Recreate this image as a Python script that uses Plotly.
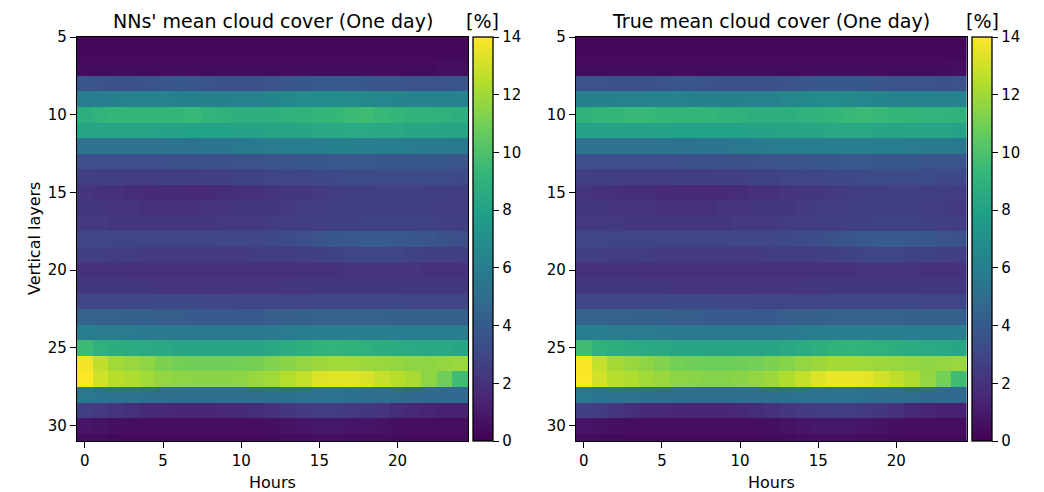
import plotly.graph_objects as go

hours = list(range(25))
layers = list(range(5, 32))

nn_cover = [
    [0.2,0.2,0.2,0.2,0.2,0.2,0.2,0.2,0.2,0.2,0.2,0.2,0.2,0.2,0.2,0.2,0.2,0.2,0.2,0.2,0.2,0.2,0.2,0.2,0.2],
    [0.3,0.3,0.3,0.3,0.3,0.3,0.3,0.3,0.3,0.3,0.3,0.3,0.3,0.3,0.3,0.3,0.3,0.3,0.3,0.3,0.3,0.3,0.3,0.3,0.3],
    [0.4,0.4,0.4,0.4,0.4,0.4,0.4,0.4,0.4,0.4,0.4,0.4,0.4,0.4,0.4,0.4,0.4,0.4,0.4,0.4,0.4,0.4,0.4,0.5,0.5],
    [3.7,3.6,3.5,3.5,3.6,3.7,3.8,3.7,3.6,3.5,3.5,3.5,3.6,3.7,3.8,3.9,3.9,3.9,3.8,3.7,3.7,3.6,3.6,3.6,3.7],
    [6.0,6.0,6.1,6.2,6.2,6.2,6.1,6.1,6.1,6.1,6.2,6.3,6.4,6.6,6.8,6.8,6.8,6.7,6.6,6.5,6.4,6.3,6.3,6.3,6.2],
    [8.8,9.1,9.3,9.3,9.3,9.3,9.3,9.4,9.1,8.9,8.8,8.8,8.8,8.9,9.0,9.2,9.3,9.5,9.6,9.4,9.2,9.0,9.0,8.9,8.8],
    [8.2,8.2,8.2,8.2,8.2,8.1,8.1,8.0,8.0,8.0,8.1,8.1,8.2,8.2,8.3,8.4,8.4,8.5,8.5,8.4,8.4,8.3,8.3,8.2,8.2],
    [5.3,5.3,5.3,5.3,5.3,5.3,5.4,5.4,5.5,5.5,5.6,5.7,5.8,5.9,6.0,6.0,6.1,6.1,6.0,6.0,5.9,5.8,5.7,5.7,5.6],
    [3.4,3.4,3.4,3.4,3.4,3.4,3.5,3.5,3.5,3.5,3.6,3.6,3.7,3.7,3.8,3.8,3.9,3.9,3.9,3.8,3.8,3.8,3.8,3.8,3.7],
    [2.7,2.6,2.6,2.5,2.5,2.6,2.6,2.6,2.7,2.7,2.8,2.8,2.9,3.0,3.0,3.1,3.1,3.2,3.2,3.2,3.2,3.2,3.2,3.2,3.1],
    [2.1,2.0,1.9,1.8,1.7,1.7,1.7,1.6,1.7,1.8,1.9,2.0,2.1,2.2,2.3,2.4,2.5,2.6,2.6,2.7,2.7,2.7,2.6,2.6,2.5],
    [2.2,2.2,2.1,2.1,2.0,2.0,2.0,2.0,2.1,2.1,2.2,2.3,2.3,2.4,2.5,2.5,2.6,2.6,2.6,2.6,2.6,2.6,2.6,2.5,2.5],
    [2.4,2.4,2.3,2.3,2.3,2.3,2.3,2.3,2.3,2.4,2.4,2.4,2.5,2.5,2.6,2.6,2.7,2.7,2.8,2.8,2.8,2.8,2.8,2.7,2.6],
    [3.0,3.0,2.9,2.9,2.9,2.9,2.9,2.9,2.9,3.0,3.0,3.0,3.1,3.2,3.4,3.6,3.8,3.9,4.0,4.0,3.9,3.8,3.7,3.5,3.4],
    [2.6,2.6,2.5,2.5,2.4,2.4,2.4,2.4,2.4,2.4,2.4,2.5,2.5,2.5,2.6,2.7,2.8,2.9,2.9,2.9,2.9,2.8,2.7,2.7,2.6],
    [2.0,2.0,2.0,1.9,1.9,1.9,1.9,1.9,1.9,1.9,1.9,1.9,1.9,1.9,2.0,2.0,2.0,2.1,2.1,2.1,2.1,2.1,2.0,2.0,2.0],
    [2.3,2.3,2.2,2.2,2.2,2.1,2.1,2.1,2.1,2.1,2.1,2.1,2.1,2.2,2.2,2.2,2.3,2.3,2.3,2.3,2.3,2.3,2.3,2.3,2.3],
    [3.0,3.0,3.0,3.0,3.0,3.1,3.1,3.1,3.0,3.0,2.9,2.9,2.9,2.9,2.9,3.0,3.0,3.0,3.0,3.0,3.0,2.9,2.9,2.9,2.9],
    [4.4,4.3,4.3,4.2,4.2,4.1,4.1,4.0,4.0,4.0,4.0,4.0,4.1,4.1,4.2,4.3,4.3,4.3,4.3,4.3,4.2,4.2,4.2,4.2,4.2],
    [5.9,5.8,5.8,5.8,5.7,5.7,5.7,5.7,5.7,5.6,5.6,5.6,5.7,5.8,5.9,6.0,6.0,6.0,6.0,5.9,5.9,5.9,5.9,5.9,5.9],
    [9.5,8.9,8.7,8.6,8.5,8.4,8.3,8.2,8.2,8.2,8.2,8.3,8.4,8.6,8.8,9.0,9.1,9.0,8.9,8.7,8.6,8.5,8.4,8.4,8.3],
    [13.8,12.7,12.0,11.8,11.6,11.2,11.0,10.9,10.9,10.9,11.0,11.1,11.3,11.5,11.7,11.9,12.0,12.0,11.9,11.8,11.7,11.6,11.6,11.7,11.8],
    [14.0,13.0,12.5,12.3,12.0,11.7,11.6,11.5,11.5,11.5,11.6,11.8,12.0,12.4,12.8,13.3,13.4,13.4,13.2,12.8,12.5,12.2,11.6,10.9,9.6],
    [5.6,5.5,5.4,5.3,5.2,5.1,5.1,5.1,5.1,5.1,5.1,5.1,5.2,5.2,5.3,5.3,5.3,5.2,5.1,5.0,4.9,4.8,4.8,4.8,4.8],
    [2.6,2.4,2.1,1.9,1.7,1.6,1.5,1.5,1.5,1.6,1.7,1.8,2.0,2.2,2.4,2.5,2.5,2.4,2.3,2.1,1.8,1.6,1.4,1.3,1.3],
    [0.8,0.7,0.6,0.5,0.5,0.5,0.5,0.5,0.5,0.5,0.5,0.5,0.6,0.7,0.8,0.9,0.9,0.8,0.8,0.7,0.6,0.5,0.5,0.5,0.5],
    [0.4,0.4,0.3,0.3,0.3,0.3,0.3,0.3,0.3,0.3,0.3,0.3,0.4,0.4,0.5,0.5,0.5,0.5,0.4,0.4,0.4,0.3,0.3,0.3,0.3],
]

true_cover = [
    [0.2,0.2,0.2,0.2,0.2,0.2,0.2,0.2,0.2,0.2,0.2,0.2,0.2,0.2,0.2,0.2,0.2,0.2,0.2,0.2,0.2,0.2,0.2,0.2,0.2],
    [0.3,0.3,0.3,0.3,0.3,0.3,0.3,0.3,0.3,0.3,0.3,0.3,0.3,0.3,0.3,0.3,0.3,0.3,0.3,0.3,0.3,0.3,0.3,0.3,0.3],
    [0.4,0.4,0.4,0.4,0.4,0.4,0.4,0.4,0.4,0.4,0.4,0.4,0.4,0.4,0.4,0.4,0.4,0.4,0.4,0.4,0.4,0.4,0.4,0.4,0.5],
    [3.6,3.6,3.5,3.5,3.5,3.6,3.7,3.7,3.6,3.5,3.5,3.5,3.5,3.6,3.7,3.8,3.8,3.8,3.8,3.7,3.6,3.6,3.6,3.5,3.6],
    [6.1,6.1,6.1,6.2,6.2,6.2,6.2,6.1,6.1,6.1,6.1,6.2,6.3,6.5,6.6,6.7,6.7,6.6,6.5,6.4,6.3,6.3,6.2,6.2,6.2],
    [9.0,9.2,9.3,9.4,9.4,9.3,9.3,9.3,9.2,9.0,8.9,8.8,8.8,8.8,8.9,9.0,9.2,9.4,9.5,9.4,9.3,9.2,9.1,9.1,9.0],
    [8.1,8.1,8.1,8.1,8.1,8.1,8.0,8.0,8.0,8.0,8.0,8.1,8.1,8.2,8.3,8.3,8.4,8.4,8.4,8.3,8.3,8.3,8.2,8.2,8.1],
    [5.3,5.3,5.3,5.3,5.3,5.4,5.4,5.4,5.5,5.5,5.6,5.7,5.8,5.9,5.9,6.0,6.0,6.0,6.0,5.9,5.9,5.8,5.7,5.7,5.6],
    [3.4,3.4,3.4,3.4,3.4,3.4,3.4,3.5,3.5,3.5,3.5,3.6,3.6,3.7,3.7,3.8,3.8,3.9,3.9,3.8,3.8,3.8,3.7,3.7,3.7],
    [2.7,2.6,2.6,2.5,2.5,2.5,2.6,2.6,2.6,2.7,2.7,2.8,2.8,2.9,3.0,3.0,3.1,3.1,3.2,3.2,3.2,3.2,3.2,3.1,3.1],
    [2.1,2.0,1.9,1.8,1.8,1.7,1.7,1.6,1.6,1.7,1.8,1.9,2.0,2.1,2.2,2.3,2.4,2.5,2.6,2.6,2.7,2.7,2.6,2.6,2.5],
    [2.2,2.2,2.1,2.1,2.1,2.0,2.0,2.0,2.0,2.1,2.1,2.2,2.3,2.3,2.4,2.5,2.5,2.6,2.6,2.6,2.6,2.6,2.5,2.5,2.4],
    [2.4,2.4,2.4,2.3,2.3,2.3,2.3,2.3,2.3,2.3,2.4,2.4,2.4,2.5,2.5,2.6,2.6,2.7,2.7,2.8,2.8,2.8,2.7,2.7,2.6],
    [3.0,3.0,2.9,2.9,2.9,2.9,2.9,2.9,2.9,2.9,3.0,3.0,3.0,3.1,3.2,3.3,3.5,3.7,3.9,4.0,4.0,3.9,3.8,3.6,3.5],
    [2.6,2.6,2.5,2.5,2.5,2.4,2.4,2.4,2.4,2.4,2.4,2.4,2.5,2.5,2.5,2.6,2.7,2.8,2.9,2.9,2.9,2.8,2.8,2.7,2.6],
    [2.0,2.0,2.0,2.0,1.9,1.9,1.9,1.9,1.9,1.9,1.9,1.9,1.9,1.9,1.9,2.0,2.0,2.0,2.1,2.1,2.1,2.1,2.0,2.0,2.0],
    [2.3,2.3,2.3,2.2,2.2,2.2,2.1,2.1,2.1,2.1,2.1,2.1,2.1,2.1,2.2,2.2,2.2,2.3,2.3,2.3,2.3,2.3,2.3,2.3,2.3],
    [3.0,3.0,3.0,3.0,3.0,3.0,3.1,3.1,3.1,3.0,3.0,2.9,2.9,2.9,2.9,2.9,3.0,3.0,3.0,3.0,3.0,3.0,2.9,2.9,2.9],
    [4.4,4.4,4.3,4.3,4.2,4.2,4.1,4.1,4.0,4.0,4.0,4.0,4.0,4.1,4.1,4.2,4.3,4.3,4.3,4.3,4.3,4.2,4.2,4.2,4.2],
    [6.0,5.9,5.8,5.8,5.8,5.7,5.7,5.7,5.7,5.7,5.6,5.6,5.6,5.7,5.8,5.9,6.0,6.0,6.0,6.0,5.9,5.9,5.9,5.9,5.9],
    [9.6,9.0,8.8,8.6,8.5,8.4,8.3,8.3,8.2,8.2,8.2,8.2,8.3,8.4,8.6,8.8,9.0,9.1,9.0,8.9,8.7,8.6,8.5,8.4,8.3],
    [13.9,12.8,12.1,11.8,11.6,11.3,11.0,10.9,10.8,10.8,10.9,11.0,11.2,11.4,11.7,11.9,12.1,12.1,12.0,11.9,11.8,11.7,11.6,11.7,11.8],
    [14.1,13.1,12.5,12.3,12.0,11.8,11.6,11.5,11.4,11.4,11.5,11.7,11.9,12.3,12.8,13.3,13.6,13.6,13.5,13.1,12.7,12.3,11.7,11.0,9.6],
    [5.7,5.5,5.4,5.3,5.2,5.1,5.1,5.0,5.0,5.0,5.1,5.1,5.1,5.2,5.3,5.3,5.3,5.3,5.2,5.1,5.0,4.9,4.8,4.8,4.8],
    [2.7,2.5,2.2,1.9,1.7,1.6,1.5,1.5,1.5,1.5,1.6,1.8,2.0,2.2,2.4,2.5,2.6,2.5,2.4,2.2,1.9,1.6,1.4,1.3,1.3],
    [0.8,0.7,0.6,0.5,0.5,0.5,0.5,0.5,0.5,0.5,0.5,0.5,0.6,0.7,0.8,0.9,0.9,0.9,0.8,0.7,0.6,0.5,0.5,0.5,0.5],
    [0.4,0.4,0.3,0.3,0.3,0.3,0.3,0.3,0.3,0.3,0.3,0.3,0.4,0.4,0.5,0.5,0.5,0.5,0.4,0.4,0.4,0.3,0.3,0.3,0.3],
]

titles = ["NNs' mean cloud cover (One day)", "True mean cloud cover (One day)"]
cb_ticks = [0, 2, 4, 6, 8, 10, 12, 14]
x_ticks = [0, 5, 10, 15, 20]
y_ticks = [5, 10, 15, 20, 25, 30]

W, H = 1044, 492
ML, MR, MT, MB = 10, 10, 20, 30
AW, AH = W - ML - MR, H - MT - MB
FONT = "DejaVu Sans"

def px(x):
    return (x - ML) / AW

def py(y):
    return (H - MB - y) / AH

fig = go.Figure()
fig.add_trace(go.Heatmap(x=hours, y=layers, z=nn_cover, coloraxis="coloraxis",
                         xaxis="x", yaxis="y"))
fig.add_trace(go.Heatmap(x=hours, y=layers, z=true_cover, coloraxis="coloraxis2",
                         xaxis="x2", yaxis="y2"))

plot_top, plot_bot = 37, 441
panels = [(77, 468, 472.7), (576, 966.7, 972.3)]
ydom = [py(plot_bot), py(plot_top)]

axis_common = dict(
    showline=True, mirror=True, linecolor="black", linewidth=1.3,
    ticks="outside", ticklen=6, tickwidth=1.3, tickcolor="black",
    showgrid=False, zeroline=False, automargin=False,
    tickfont=dict(family=FONT, size=15, color="black"),
)

def cbar(x0):
    return dict(
        x=px(x0), xanchor="left", xpad=0, ypad=0,
        y=ydom[1], yanchor="top", len=(plot_bot - plot_top) / AH, lenmode="fraction",
        thickness=20, thicknessmode="pixels",
        outlinewidth=1.3, outlinecolor="black",
        ticks="outside", ticklen=6, tickwidth=1.3, tickcolor="black",
        tickvals=cb_ticks, ticktext=[str(v) for v in cb_ticks],
        tickfont=dict(family=FONT, size=15, color="black"),
    )

layout = dict(
    width=W, height=H, autosize=False,
    margin=dict(l=ML, r=MR, t=MT, b=MB, autoexpand=False),
    paper_bgcolor="white", plot_bgcolor="white",
    font=dict(family=FONT, color="black"),
    coloraxis=dict(colorscale="Viridis", cmin=0, cmax=14, colorbar=cbar(panels[0][2])),
    coloraxis2=dict(colorscale="Viridis", cmin=0, cmax=14, colorbar=cbar(panels[1][2])),
    showlegend=False,
)
for i, (x0, x1, cbx) in enumerate(panels):
    sfx = "" if i == 0 else str(i + 1)
    layout["xaxis" + sfx] = dict(domain=[px(x0), px(x1)], range=[-0.5, 24.5],
                                 tickvals=x_ticks, anchor="y" + sfx, **axis_common)
    layout["yaxis" + sfx] = dict(domain=ydom, range=[31, 5],
                                 tickvals=y_ticks, anchor="x" + sfx, **axis_common)

fig.update_layout(**layout)

ann = []
for i, (x0, x1, cbx) in enumerate(panels):
    ann.append(dict(text=titles[i], x=px((x0 + x1) / 2), y=py(21),
                    xref="paper", yref="paper", xanchor="center", yanchor="middle",
                    showarrow=False, font=dict(family=FONT, size=19, color="black")))
    ann.append(dict(text="[%]", x=px(cbx + 10), y=py(21),
                    xref="paper", yref="paper", xanchor="center", yanchor="middle",
                    showarrow=False, font=dict(family=FONT, size=19, color="black")))
    ann.append(dict(text="Hours", x=px((x0 + x1) / 2), y=py(482),
                    xref="paper", yref="paper", xanchor="center", yanchor="middle",
                    showarrow=False, font=dict(family=FONT, size=16, color="black")))
ann.append(dict(text="Vertical layers", x=px(34), y=py(239),
                xref="paper", yref="paper", xanchor="center", yanchor="middle",
                textangle=-90, showarrow=False,
                font=dict(family=FONT, size=16, color="black")))
fig.update_layout(annotations=ann)

fig.write_html("out.html")
